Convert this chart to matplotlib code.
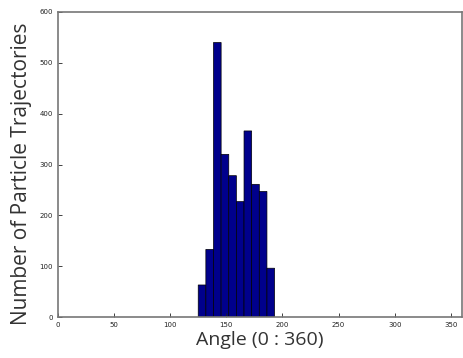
import matplotlib
matplotlib.use("Agg")
import matplotlib.pyplot as plt
import numpy as np

# histogram bins (angle, degrees) and counts
bin_edges = [125.0, 131.8, 138.6, 145.4, 152.2, 159.0, 165.8, 172.6, 179.4, 186.2, 193.0]
counts = [63, 133, 540, 320, 278, 227, 366, 261, 247, 96]
x_ticks = [0, 50, 100, 150, 200, 250, 300, 350]
y_ticks = [0, 100, 200, 300, 400, 500, 600]

fig = plt.figure(figsize=(4.63, 3.58), dpi=100)
ax = fig.add_axes([0.125, 0.1145, 0.873, 0.852])

widths = np.diff(bin_edges)
ax.bar(bin_edges[:-1], counts, width=widths, align='edge',
       color='#00008C', edgecolor='black', linewidth=0.5, snap=False)

ax.set_xlim(0, 360)
ax.set_ylim(0, 600)
ax.set_xticks(x_ticks)
ax.set_yticks(y_ticks)
ax.tick_params(direction='in', length=3, width=0.6, labelsize=5, colors='#222222')
for s in ax.spines.values():
    s.set_color('#777777')
    s.set_linewidth(1.2)

ax.set_xlabel('Angle (0 : 360)', fontsize=14, family='Open Sans', color='#333333', labelpad=2)
ax.set_ylabel('Number of Particle Trajectories', fontsize=15, family='Open Sans',
              color='#333333')
ax.yaxis.set_label_coords(-0.063, 0.47)

fig.savefig('out.png', dpi=100)
